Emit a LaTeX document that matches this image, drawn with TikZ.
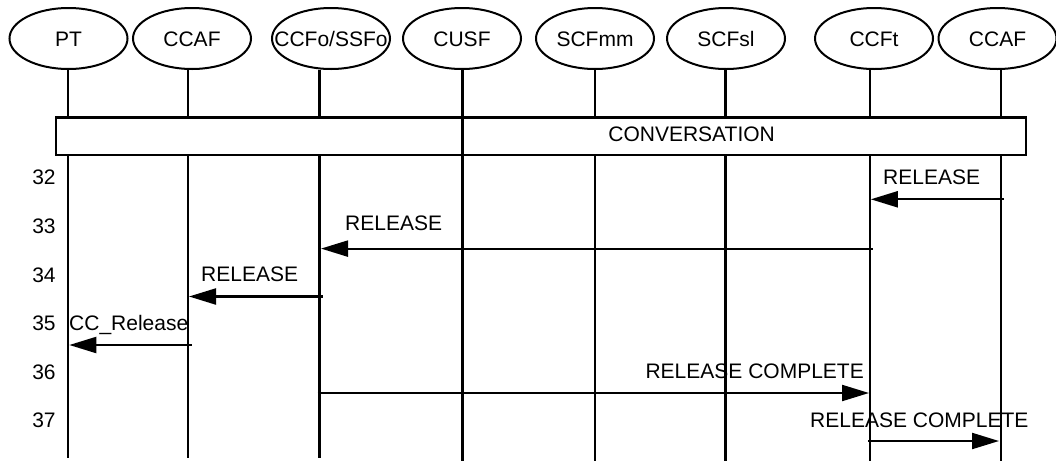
\documentclass[tikz,border=0pt]{standalone}
\usepackage{fontspec}
\setmainfont{Liberation Sans}
\usetikzlibrary{shapes.geometric,arrows.meta,calc}
\begin{document}
\begin{tikzpicture}[x=1pt,y=-1pt,
  every node/.style={font=\fontsize{21}{25}\selectfont},
  actor/.style={draw, ellipse, line width=2pt, minimum width=118pt, minimum height=61pt,
                inner sep=-30pt, text height=15pt, text depth=0pt},
  life/.style={line width=2.2pt},
  msg/.style={line width=2.2pt, -{Triangle[length=27pt,width=16pt]}},
  lbl/.style={inner sep=0pt},
  num/.style={inner sep=0pt, anchor=base}]
\useasboundingbox (0,0) rectangle (1056,461);

% functional entities
\node[actor] (PT)    at (68.5,38.5)  {PT};
\node[actor] (CCAFa) at (192,38.5)   {CCAF};
\node[actor] (CCFo)  at (331,38.5)   {CCFo/SSFo};
\node[actor] (CUSF)  at (462,38.5)   {CUSF};
\node[actor] (SCFmm) at (595,38.5)   {SCFmm};
\node[actor] (SCFsl) at (726,38.5)   {SCFsl};
\node[actor] (CCFt)  at (874,38.5)   {CCFt};
\node[actor] (CCAFb) at (997.5,38.5) {CCAF};

% lifeline positions
\coordinate (xPT)    at (68.3,0);
\coordinate (xCCAFa) at (187.7,0);
\coordinate (xCCFo)  at (319.4,0);
\coordinate (xCUSF)  at (462.4,0);
\coordinate (xSCFmm) at (594.6,0);
\coordinate (xSCFsl) at (725.4,0);
\coordinate (xCCFt)  at (869.8,0);
\coordinate (xCCAFb) at (1000.9,0);

% conversation phase
\node[draw, line width=2.2pt, minimum width=969.8pt, minimum height=37.5pt, inner sep=0pt]
  (convbox) at (540.7,136.25) {};
\node[lbl, anchor=base] (convtext) at (691.6,141) {CONVERSATION};

% lifelines
\foreach \n/\e in {PT/457.5, CCAFa/457.5, CCFo/457.5, SCFmm/461, SCFsl/461, CCFt/461, CCAFb/461}{
  \draw[life] (x\n |- \n.south) -- (x\n |- convbox.north);
  \draw[life] (x\n |- convbox.south) -- (x\n |- 0,\e);
}
\draw[life] (xCUSF |- CUSF.south) -- (xCUSF |- 0,461);

% step numbers
\node[num] (n32) at (44,184.4) {32};
\node[num] (n33) at (44,233.4) {33};
\node[num] (n34) at (44,282.4) {34};
\node[num] (n35) at (44,330.8) {35};
\node[num] (n36) at (44,379.8) {36};
\node[num] (n37) at (44,427.8) {37};

% messages
\draw[msg] ($(xCCAFb)+(3,199.3)$) -- ($(xCCFt)+(1,199.3)$);
\node[lbl, anchor=base west] (m32) at (883,184.2) {RELEASE};

\draw[msg] ($(xCCFt)+(2.7,248.6)$) -- ($(xCCFo)+(1.6,248.6)$);
\node[lbl, anchor=base west] (m33) at (345,230) {RELEASE};

\draw[msg] ($(xCCFo)+(3.4,296.5)$) -- ($(xCCAFa)+(1.3,296.5)$);
\node[lbl, anchor=base west] (m34) at (201,281.5) {RELEASE};

\draw[msg] ($(xCCAFa)+(3.9,345)$) -- ($(xPT)+(1,345)$);
\node[lbl, anchor=base west] (m35) at (69,330.5) {CC\_Release};

\draw[msg] ($(xCCFo)+(-1.7,393)$) -- ($(xCCFt)+(-0.8,393)$);
\node[lbl, anchor=base east] (m36) at (864,378.5) {RELEASE COMPLETE};

\draw[msg] ($(xCCFt)+(-1.4,441)$) -- ($(xCCAFb)+(-1.9,441)$);
\node[lbl, anchor=base west] (m37) at (810,427.5) {RELEASE COMPLETE};
\end{tikzpicture}
\end{document}
